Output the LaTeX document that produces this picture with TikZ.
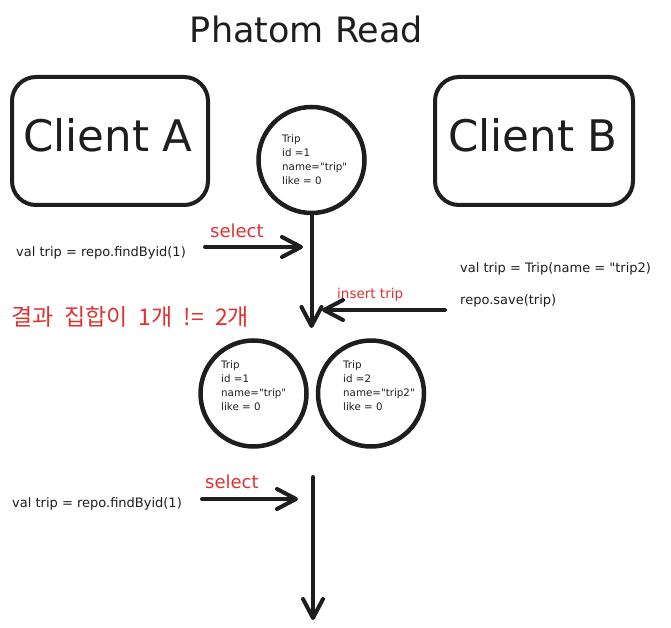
\documentclass[tikz,border=0pt]{standalone}
\usepackage{fontspec}
\setmainfont{DejaVu Sans}[Ligatures=TeXOff]
\newfontfamily\krfont{Noto Sans CJK KR}[Ligatures=TeXOff]
\usetikzlibrary{arrows.meta}
\definecolor{ink}{HTML}{1E1E1E}
\definecolor{exred}{HTML}{E03131}
\begin{document}
\begin{tikzpicture}[x=1pt,y=-1pt,
  every node/.style={inner sep=0pt, text=ink},
  clientbox/.style={draw=ink, line width=4pt, rounded corners=24pt, minimum width=196pt, minimum height=128pt},
  clienttext/.style={anchor=base, font=\fontsize{43.5}{48}\selectfont},
  record/.style={draw=ink, line width=4.5pt, circle, minimum size=106pt},
  rectext/.style={anchor=north west, align=left, font=\fontsize{10.3}{14}\selectfont},
  code/.style={anchor=base west, font=\fontsize{13}{15}\selectfont},
  redlabel/.style={anchor=base west, text=exred},
  flow/.style={draw=ink, line width=4pt, line cap=round, line join=round,
    -{Straight Barb[length=19pt,width=20pt,line cap=round,line join=round]}},
]
\useasboundingbox (0,0) rectangle (671,628);

% title
\node[font=\fontsize{35}{40}\selectfont, anchor=base] (title) at (306.5,43) {Phatom Read};

% clients
\node[clientbox] (ca) at (110,141) {};
\node[clienttext] (cat) at (108,152) {Client A};
\node[clientbox, minimum width=198pt] (cb) at (534,141) {};
\node[clienttext] (cbt) at (533,152) {Client B};

% records
\node[record] (r1) at (311.5,160) {};
\node[rectext] (r1t) at (282,134) {Trip\\id =1\\name="trip"\\like = 0};
\node[record] (r2) at (253.5,393.5) {};
\node[rectext] (r2t) at (221,360) {Trip\\id =1\\name="trip"\\like = 0};
\node[record] (r3) at (371,393.5) {};
\node[rectext] (r3t) at (343,360) {Trip\\id =2\\name="trip2"\\like = 0};

% code texts
\node[code] (qa1) at (16,256) {val trip = repo.findByid(1)};
\node[code] (qa2) at (12,507) {val trip = repo.findByid(1)};
\node[code] (qb1) at (460,272) {val trip = Trip(name = "trip2)};
\node[code] (qb2) at (460,304) {repo.save(trip)};

% red labels
\node[redlabel, font=\fontsize{18}{20}\selectfont] (sel1) at (210,237) {select};
\node[redlabel, font=\fontsize{18}{20}\selectfont] (sel2) at (205,488) {select};
\node[redlabel, font=\fontsize{13.5}{15}\selectfont] (ins) at (337,298) {insert trip};
\node[anchor=west, text=exred, font=\krfont\fontsize{23}{27}\selectfont] (result) at (11,317) {\spaceskip=11pt\relax 결과 집합이 1개 != 2개};

% connectors
\coordinate (sel1s) at (205,247);
\coordinate (sel1e) at (303,247);
\coordinate (v1e) at (311.5,328);
\coordinate (inss) at (445,310);
\coordinate (inse) at (322,310);
\coordinate (sel2s) at (202,499);
\coordinate (sel2e) at (298,499);
\coordinate (v2s) at (313,477);
\coordinate (v2e) at (313,620);

\draw[flow] (sel1s) -- (sel1e);
\draw[flow] (r1.south) -- (v1e);
\draw[flow] (inss) -- (inse);
\draw[flow] (sel2s) -- (sel2e);
\draw[flow] (v2s) -- (v2e);
\end{tikzpicture}
\end{document}
